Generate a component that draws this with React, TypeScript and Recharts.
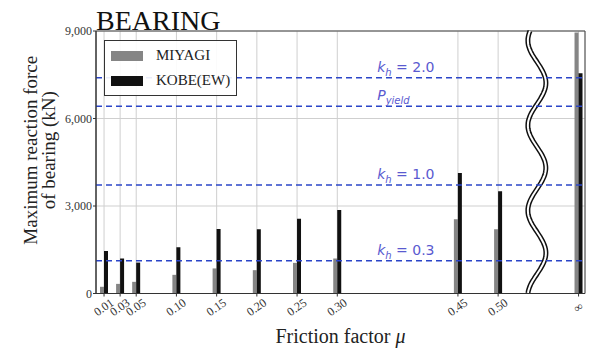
import React from "react";
import {
  Bar,
  CartesianGrid,
  ComposedChart,
  Legend,
  ReferenceArea,
  ReferenceLine,
  XAxis,
  YAxis,
} from "recharts";

// friction factor positions (the last one stands for "infinity")
const frictionTicks = [0.01, 0.03, 0.05, 0.1, 0.15, 0.2, 0.25, 0.3, 0.45, 0.5, 0.6];
const tickLabels = ["0.01", "0.03", "0.05", "0.10", "0.15", "0.20", "0.25", "0.30", "0.45", "0.50", "\u221e"];
const miyagi = [230, 330, 400, 640, 860, 800, 1050, 1200, 2550, 2200, 8950];
const kobe = [1460, 1200, 1060, 1590, 2210, 2200, 2560, 2860, 4130, 3510, 7550];
const yTicks = [0, 3000, 6000, 9000];
const breakAt = 0.55;

const levels = [
  { y: 7400, main: "k", sub: "h", rest: " = 2.0" },
  { y: 6420, main: "P", sub: "yield", rest: "" },
  { y: 3720, main: "k", sub: "h", rest: " = 1.0" },
  { y: 1120, main: "k", sub: "h", rest: " = 0.3" },
];

const data = frictionTicks.map((mu, i) => ({ mu, miyagi: miyagi[i], kobe: kobe[i] }));

const serif = "'Liberation Serif', 'Times New Roman', serif";
const sans = "'DejaVu Sans', sans-serif";

function XTick(props: any) {
  const { x, y, payload } = props;
  const i = frictionTicks.indexOf(payload.value);
  const tx = x + 2;
  const ty = y + 12;
  return (
    <text
      x={tx}
      y={ty}
      textAnchor="middle"
      fontFamily={serif}
      fontSize={12}
      fill="#333"
      transform={`rotate(-35, ${tx}, ${ty})`}
    >
      {tickLabels[i] ?? ""}
    </text>
  );
}

function WavyBreak(props: any) {
  const { x1, y1, y2 } = props;
  const top = Math.min(y1, y2);
  const bottom = Math.max(y1, y2);
  let d = "";
  for (let y = top; y <= bottom; y += 2) {
    const x = x1 - 1.5 + 9 * Math.cos((2 * Math.PI * (y - top - 52)) / 85);
    d += (d ? " L" : "M") + x.toFixed(1) + " " + y.toFixed(1);
  }
  return (
    <g>
      <path d={d} stroke="#111" strokeWidth={5} fill="none" />
      <path d={d} stroke="#fff" strokeWidth={2} fill="none" />
    </g>
  );
}

function levelLabel(lv: (typeof levels)[number]) {
  return (p: any) => {
    const vb = p.viewBox || {};
    return (
      <text
        x={vb.x + vb.width * 0.575}
        y={vb.y - 6}
        fontFamily={sans}
        fontSize={14}
        fill="#5a5ad0"
      >
        <tspan fontStyle="italic">{lv.main}</tspan>
        <tspan fontStyle="italic" fontSize={10} dy={4}>
          {lv.sub}
        </tspan>
        {lv.rest ? <tspan dy={-4}>{lv.rest}</tspan> : null}
      </text>
    );
  };
}

function LegendBox() {
  const rows = [
    { name: "MIYAGI", color: "#858585" },
    { name: "KOBE(EW)", color: "#111" },
  ];
  return (
    <div
      style={{
        border: "1.5px solid #333",
        background: "rgba(255,255,255,0.9)",
        width: 131,
        padding: "2px 0",
        fontFamily: serif,
        fontSize: 15,
        color: "#222",
      }}
    >
      {rows.map((r) => (
        <div key={r.name} style={{ display: "flex", alignItems: "center", height: 25 }}>
          <span
            style={{
              display: "inline-block",
              width: 32,
              height: 10,
              background: r.color,
              marginLeft: 6,
              marginRight: 13,
            }}
          />
          {r.name}
        </div>
      ))}
    </div>
  );
}

export default function App() {
  return (
    <div style={{ position: "relative", width: 587, height: 343 }}>
      <div
        style={{
          position: "absolute",
          left: 88,
          top: -1,
          fontFamily: serif,
          fontSize: 28,
          lineHeight: 1,
          color: "#111",
          zIndex: 2,
        }}
      >
        BEARING
      </div>
      <ComposedChart
        width={587}
        height={343}
        data={data}
        margin={{ top: 23, right: 10, bottom: 0, left: 0 }}
        barGap={0}
      >
        <CartesianGrid stroke="#cfcfcf" />
        <XAxis
          dataKey="mu"
          type="number"
          domain={[0, 0.608]}
          ticks={frictionTicks}
          interval={0}
          allowDataOverflow
          height={57.5}
          tick={<XTick />}
          tickSize={3}
          stroke="#333"
          label={(p: any) => {
            const vb = p.viewBox || {};
            return (
              <text
                x={vb.x + vb.width / 2}
                y={vb.y + 49.5}
                textAnchor="middle"
                fontFamily={serif}
                fontSize={20}
                fill="#222"
              >
                Friction factor <tspan fontStyle="italic">{"\u03bc"}</tspan>
              </text>
            );
          }}
        />
        <YAxis
          type="number"
          domain={[0, 9000]}
          ticks={yTicks}
          width={88}
          tickSize={3}
          tickMargin={1}
          stroke="#333"
          tick={{ fontFamily: serif, fontSize: 12, fill: "#333" }}
          tickFormatter={(v: number) => v.toLocaleString("en-US")}
          label={(p: any) => {
            const vb = p.viewBox || {};
            const cy = vb.y + vb.height / 2 - 12;
            return (
              <g fontFamily={serif} fontSize={19} fill="#222">
                <text x={29} y={cy} textAnchor="middle" transform={`rotate(-90, 29, ${cy})`}>
                  Maximum reaction force
                </text>
                <text x={47} y={cy} textAnchor="middle" transform={`rotate(-90, 47, ${cy})`}>
                  of bearing (kN)
                </text>
              </g>
            );
          }}
        />
        <Bar dataKey="miyagi" name="MIYAGI" fill="#858585" barSize={4} isAnimationActive={false} />
        <Bar dataKey="kobe" name="KOBE(EW)" fill="#111" barSize={4} isAnimationActive={false} />
        <ReferenceLine x={breakAt} shape={<WavyBreak />} />
        {levels.map((lv) => (
          <ReferenceLine
            key={lv.y}
            y={lv.y}
            stroke="#2b45c8"
            strokeWidth={1.5}
            strokeDasharray="6 4"
            label={levelLabel(lv)}
          />
        ))}
        <ReferenceArea x1={0} x2={0.608} y1={0} y2={9000} fill="none" stroke="#444" strokeWidth={1} />
        <Legend
          layout="vertical"
          align="center"
          verticalAlign="middle"
          content={() => <LegendBox />}
          wrapperStyle={{ left: 96, top: 32, width: "auto" }}
        />
      </ComposedChart>
    </div>
  );
}
